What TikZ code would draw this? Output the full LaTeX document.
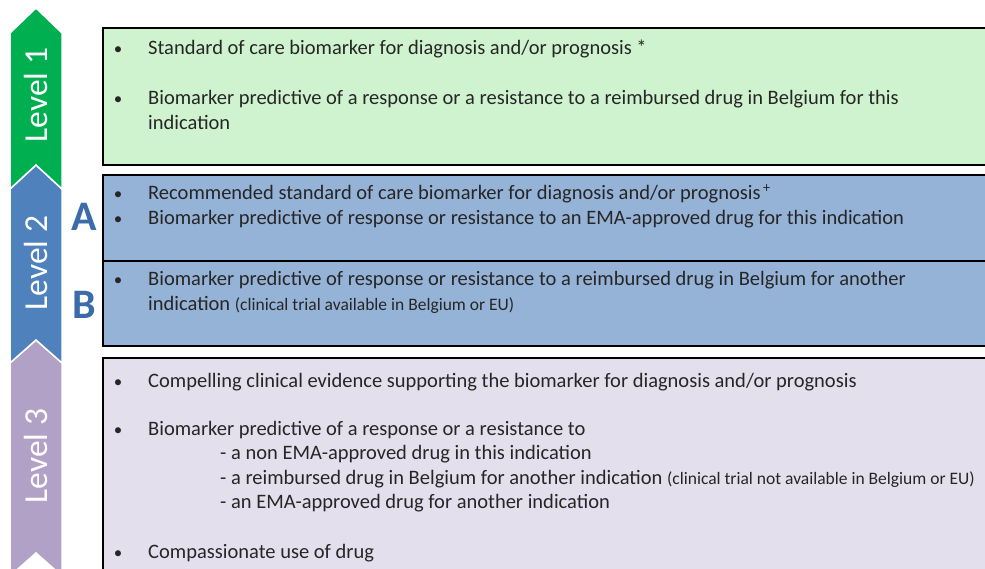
\documentclass[tikz,border=0pt]{standalone}
\usepackage{fontspec}
\setmainfont{Carlito}
\tikzset{>=stealth}
\definecolor{lvlgreen}{HTML}{00B050}
\definecolor{lvlblue}{HTML}{4F81BD}
\definecolor{lvlpurple}{HTML}{B2A1C7}
\definecolor{boxgreen}{HTML}{D0F3CF}
\definecolor{boxblue}{HTML}{95B3D7}
\definecolor{boxpurple}{HTML}{E4DFEC}
\definecolor{txtgray}{HTML}{262626}
\definecolor{letterblue}{HTML}{3C6BA9}
\tikzset{
  chevron/.style={draw=white, line width=1.5pt},
  levelbox/.style={draw=black, line width=1.8pt},
  lvltext/.style={rotate=90, text=white, font=\fontsize{33.5}{40}\selectfont},
  item/.style={anchor=base west, inner sep=0pt, text=txtgray, font=\fontsize{20.5}{24}\selectfont},
  bullet/.style={anchor=base, inner sep=0pt, text=txtgray, font=\fontsize{17}{20}\selectfont},
  subletter/.style={text=letterblue, font=\fontsize{42}{48}\selectfont\bfseries},
}
\newcommand{\smalltext}[1]{{\fontsize{17.5}{20}\selectfont #1}}

\begin{document}
\begin{tikzpicture}[x=1pt, y=-1pt]
    \clip (0,0) rectangle (985,569);
    \fill[white] (0,0) rectangle (985,569);
    \filldraw[chevron, fill=lvlpurple] (10,363) -- (36,340) -- (62,363) -- (62,576) -- (36,553) -- (10,576) -- cycle;
    \filldraw[chevron, fill=lvlblue] (10,189) -- (36,165) -- (62,189) -- (62,363) -- (36,340) -- (10,363) -- cycle;
    \filldraw[chevron, fill=lvlgreen] (10,33) -- (36,8) -- (62,33) -- (62,189) -- (36,165) -- (10,189) -- cycle;
    \node[lvltext] (lvl1) at (36,95) {Level 1};
    \node[lvltext] (lvl2) at (36,263) {Level 2};
    \node[lvltext] (lvl3) at (36,456) {Level 3};
    \node[subletter] (letA) at (84,217) {A};
    \node[subletter] (letB) at (84,305) {B};

    \filldraw[levelbox, fill=boxgreen] (103,28) rectangle (1000,165);
    \filldraw[levelbox, fill=boxblue] (103,175) rectangle (1000,261);
    \filldraw[levelbox, fill=boxblue] (103,261) rectangle (1000,346);
    \filldraw[levelbox, fill=boxpurple] (103,358) rectangle (1000,590);

    \foreach \y in {55,105,200,225,286,387,435,558}
        \node[bullet] at (118,\y) {•};

    \node[item] (soc) at (148,55) {Standard of care biomarker for diagnosis and/or prognosis *};
    \node[item] (pred1) at (148,105) {Biomarker predictive of a response or a resistance to a reimbursed drug in Belgium for this};
    \node[item] (pred1b) at (148,130) {indication};

    \node[item] (rsoc) at (148,200) {Recommended standard of care biomarker for diagnosis and/or prognosis\textsuperscript{\,+}};
    \node[item] (ema) at (148,225) {Biomarker predictive of response or resistance to an EMA-approved drug for this indication};
    \node[item] (reimb) at (148,286) {Biomarker predictive of response or resistance to a reimbursed drug in Belgium for another};
    \node[item] (reimbb) at (148,310) {indication \smalltext{(clinical trial available in Belgium or EU)}};

    \node[item] (evid) at (148,387) {Compelling clinical evidence supporting the biomarker for diagnosis and/or prognosis};
    \node[item] (pred3) at (148,435) {Biomarker predictive of a response or a resistance to};
    \node[item] (sub1) at (220,459) {- a non EMA-approved drug in this indication};
    \node[item] (sub2) at (220,484) {- a reimbursed drug in Belgium for another indication \smalltext{(clinical trial not available in Belgium or EU)}};
    \node[item] (sub3) at (220,508) {- an EMA-approved drug for another indication};
    \node[item] (comp) at (148,558) {Compassionate use of drug};
\end{tikzpicture}
\end{document}
